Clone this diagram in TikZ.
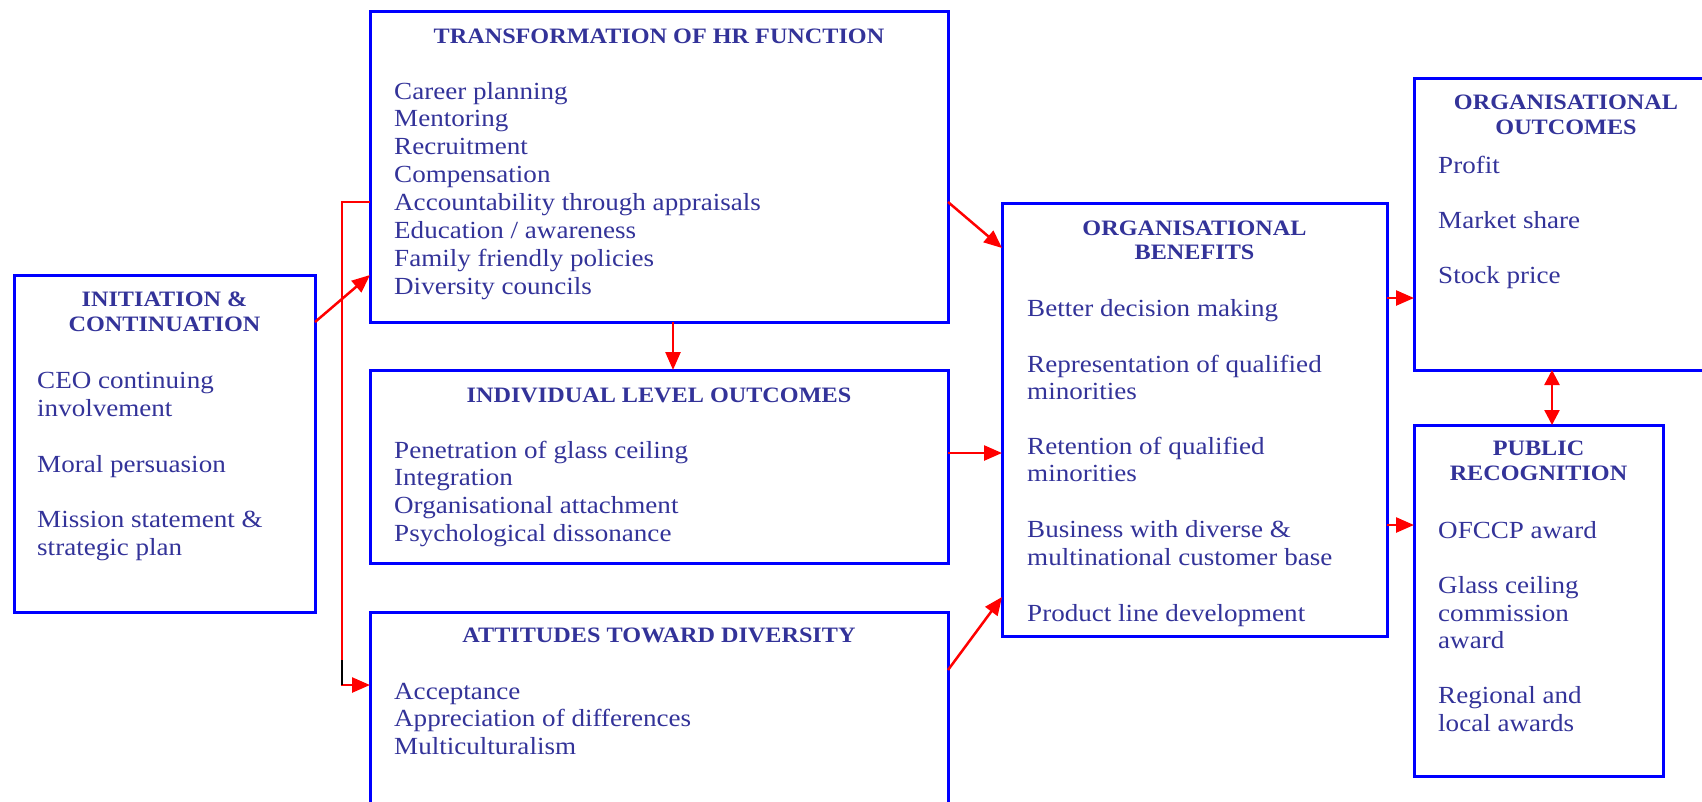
\documentclass[tikz,border=0pt]{standalone}
\usepackage{fontspec}
\setmainfont{Liberation Serif}[FakeStretch=1.1]
\usetikzlibrary{arrows.meta}
\definecolor{txtblue}{HTML}{333399}
\definecolor{boxblue}{HTML}{0000FF}
\definecolor{arrred}{HTML}{FF0000}
\begin{document}
\begin{tikzpicture}[x=1pt,y=-1pt,
  box/.style={draw=boxblue, line width=3pt, rectangle, inner sep=0pt, outer sep=0pt, anchor=north west},
  head/.style={text=txtblue, font=\fontsize{22}{24}\selectfont\bfseries, anchor=base, inner sep=0pt},
  body/.style={text=txtblue, font=\fontsize{24.6}{27.9}\selectfont, anchor=base west, inner sep=0pt},
  conn/.style={draw=arrred, line width=2.5pt, -{Triangle[length=18pt,width=15pt]}},
  dconn/.style={draw=arrred, line width=2.5pt, {Triangle[length=15pt,width=15pt]}-{Triangle[length=15pt,width=15pt]}}
]
\useasboundingbox (0,0) rectangle (1702,801);
\clip (0,0) rectangle (1702,801);

% boxes
\node[box, minimum width=301pt, minimum height=337pt] (init) at (14,275) {};
\node[box, minimum width=578pt, minimum height=311pt] (hr) at (370,11) {};
\node[box, minimum width=578pt, minimum height=193pt] (ind) at (370,370) {};
\node[box, minimum width=578pt, minimum height=250pt] (att) at (370,612) {};
\node[box, minimum width=385pt, minimum height=433pt] (ben) at (1002,203) {};
\node[box, minimum width=304pt, minimum height=292pt] (out) at (1414,78) {};
\node[box, minimum width=249pt, minimum height=351pt] (pub) at (1414,425) {};

% headings
\node[head] (inith1) at (164.5,306.5) {INITIATION \&};
\node[head] (inith2) at (164.5,331) {CONTINUATION};
\node[head] (hrh) at (659,43) {TRANSFORMATION OF HR FUNCTION};
\node[head] (indh) at (659,402) {INDIVIDUAL LEVEL OUTCOMES};
\node[head] (atth) at (659,642) {ATTITUDES TOWARD DIVERSITY};
\node[head] (benh1) at (1194.5,235) {ORGANISATIONAL};
\node[head] (benh2) at (1194.5,259) {BENEFITS};
\node[head] (outh1) at (1566,109) {ORGANISATIONAL};
\node[head] (outh2) at (1566,134) {OUTCOMES};
\node[head] (pubh1) at (1538.5,455) {PUBLIC};
\node[head] (pubh2) at (1538.5,480) {RECOGNITION};

% body texts
\foreach \t/\yy [count=\i] in {CEO continuing/388, involvement/416, Moral persuasion/472, Mission statement \&/527, strategic plan/555}
  \node[body] (initt\i) at (37,\yy) {\t};
\foreach \t [count=\i] in {Career planning, Mentoring, Recruitment, Compensation, Accountability through appraisals, Education / awareness, Family friendly policies, Diversity councils}
  \node[body] (hrt\i) at ({394},{99+27.9*(\i-1)}) {\t};
\foreach \t [count=\i] in {Penetration of glass ceiling, Integration, Organisational attachment, Psychological dissonance}
  \node[body] (indt\i) at ({394},{458+27.7*(\i-1)}) {\t};
\foreach \t [count=\i] in {Acceptance, Appreciation of differences, Multiculturalism}
  \node[body] (attt\i) at ({394},{699+27.7*(\i-1)}) {\t};
\foreach \t/\yy [count=\i] in {Better decision making/316, Representation of qualified/372, minorities/399, Retention of qualified/454, minorities/481, Business with diverse \&/537, multinational customer base/565, Product line development/621}
  \node[body] (bent\i) at (1027,\yy) {\t};
\foreach \t/\yy [count=\i] in {Profit/173, Market share/228, Stock price/283}
  \node[body] (outt\i) at (1438,\yy) {\t};
\foreach \t/\yy [count=\i] in {OFCCP award/538, Glass ceiling/593, commission/621, award/648, Regional and/703, local awards/731}
  \node[body] (pubt\i) at (1438,\yy) {\t};

% connectors
\draw[conn] (init.east |- 0,322) -- (hr.west |- 0,275);
\draw[conn] (hr.south -| 673,0) -- (ind.north -| 673,0);
\draw[conn] (hr.east |- 0,202) -- (ben.west |- 0,248);
\draw[conn] (ind.east |- 0,453) -- (ben.west |- 0,453);
\draw[conn] (att.east |- 0,670) -- (ben.west |- 0,597);
\draw[conn] (ben.east |- 0,298) -- (out.west |- 0,298);
\draw[conn] (ben.east |- 0,525) -- (pub.west |- 0,525);
\draw[dconn] (out.south -| 1552,0) -- (pub.north -| 1552,0);
\coordinate (bend) at (342,685);
\coordinate (blk) at (342,660);
\draw[conn] (hr.west |- 0,202) -| (bend) -- (att.west |- bend);
\draw[black, line width=2pt] (blk) -- (bend);
\end{tikzpicture}
\end{document}
